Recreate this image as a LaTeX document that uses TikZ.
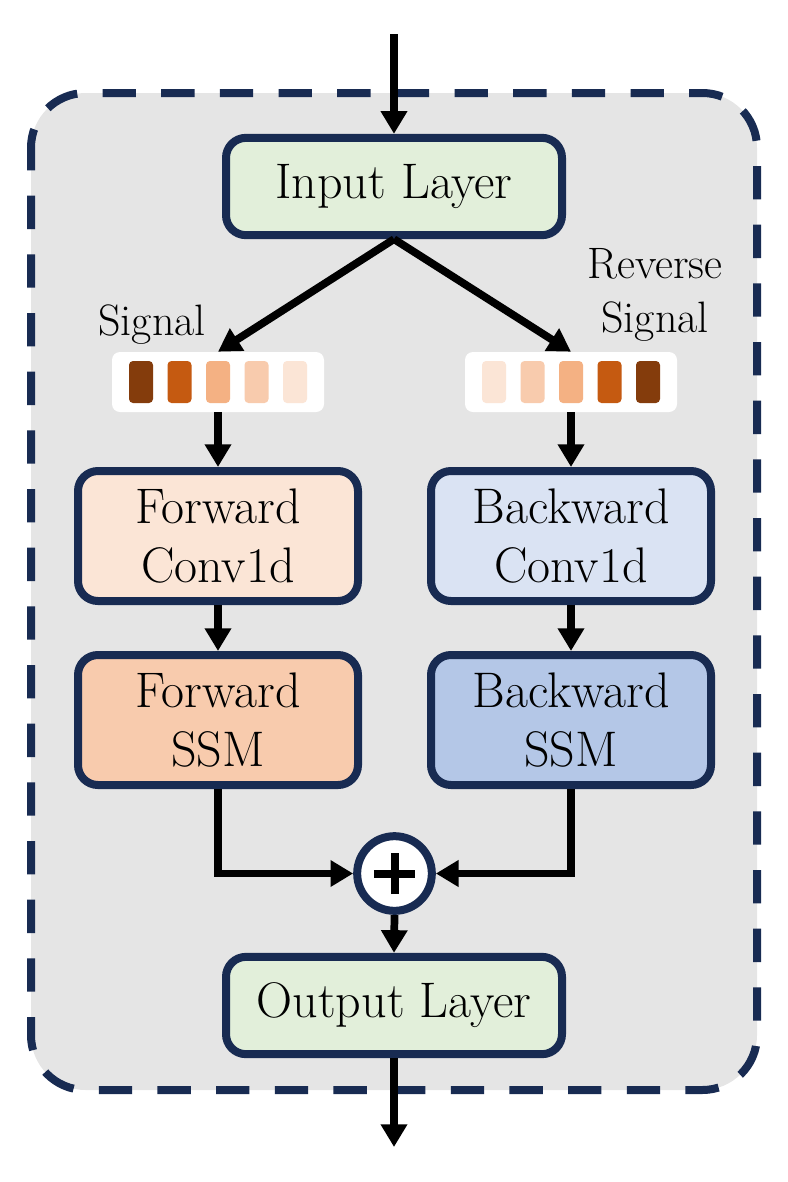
\documentclass[tikz,border=0pt]{standalone}
\usetikzlibrary{arrows.meta}
\definecolor{navy}{RGB}{24,43,82}
\definecolor{panel}{RGB}{229,229,229}
\definecolor{lgreen}{HTML}{E2EFDA}
\definecolor{peachL}{HTML}{FBE5D6}
\definecolor{peachM}{HTML}{F8CBAD}
\definecolor{peachD}{HTML}{F4B183}
\definecolor{rust}{HTML}{C55A11}
\definecolor{brown}{HTML}{843C0C}
\definecolor{blueL}{HTML}{DAE3F3}
\definecolor{blueM}{HTML}{B4C7E7}
\tikzset{
  blk/.style={draw=navy, line width=6pt, rounded corners=15pt, align=center,
    font=\rmfamily\fontsize{37.5}{44}\selectfont, inner sep=0pt},
  layerbox/.style={blk, fill=lgreen, minimum width=252pt, minimum height=73pt},
  stagebox/.style={blk, minimum width=210pt, minimum height=97.5pt},
  sigbox/.style={fill=white, rounded corners=6pt, minimum width=159pt, minimum height=45pt, inner sep=0pt},
  bar/.style={rounded corners=3pt, minimum width=18pt, minimum height=31.5pt, inner sep=0pt},
  lbl/.style={align=center, font=\rmfamily\fontsize{33}{40.5}\selectfont, inner sep=0pt},
  arr/.style={line width=5.8pt, -{Triangle[length=17pt,width=19pt]}},
}
\begin{document}
\begin{tikzpicture}[x=0.75pt,y=-0.75pt]
\useasboundingbox (0,0) rectangle (788,1182);
% panel
\draw[fill=panel, draw=navy, line width=6pt, rounded corners=41pt, dash pattern=on 25pt off 19pt, dash phase=8pt]
  (31,93) rectangle (757,1090);
% nodes
\node[layerbox] (inp) at (394,186.5) {Input Layer};
\node[layerbox] (out) at (394,1005.5) {Output Layer};
\node[sigbox] (ls) at (218,382) {};
\node[sigbox] (rs) at (571,382) {};
\foreach \i/\c in {1/brown,2/rust,3/peachD,4/peachM,5/peachL}{
  \node[bar, fill=\c] (lb\i) at ({218+(\i-3)*38.5},382) {};
  \node[bar, fill=\c] (rb\i) at ({571-(\i-3)*38.5},382) {};
}
\node[lbl, anchor=base] (sigl) at (152,335) {Signal};
\node[lbl, anchor=base] (sigr) at (655,332) {Reverse\\Signal};
\node[stagebox, fill=peachL] (fconv) at (218,536) {Forward\\Conv1d};
\node[stagebox, fill=peachM] (fssm) at (218,720) {Forward\\SSM};
\node[stagebox, fill=blueL] (bconv) at (571,536) {Backward\\Conv1d};
\node[stagebox, fill=blueM] (bssm) at (571,720) {Backward\\SSM};
\node[circle, draw=navy, fill=white, line width=6pt, minimum size=56pt, inner sep=0pt] (plus) at (394.5,873.5) {};
\draw[line width=6pt] ([xshift=-15.5pt]plus.center) -- ([xshift=15.5pt]plus.center)
  ([yshift=-15.5pt]plus.center) -- ([yshift=15.5pt]plus.center);
\coordinate (top) at (394,34);
\coordinate (bot) at (394,1147);
% connectors
\draw[arr] (top) -- (inp.north);
\draw[arr] (inp.south) -- (ls.north);
\draw[arr] (inp.south) -- (rs.north);
\draw[arr] (ls.south) -- (fconv.north);
\draw[arr] (rs.south) -- (bconv.north);
\draw[arr] (fconv.south) -- (fssm.north);
\draw[arr] (bconv.south) -- (bssm.north);
\draw[arr] (fssm.south) |- (plus.west);
\draw[arr] (bssm.south) |- (plus.east);
\draw[arr] (plus.south) -- (out.north);
\draw[arr] (out.south) -- (bot);
\end{tikzpicture}
\end{document}
